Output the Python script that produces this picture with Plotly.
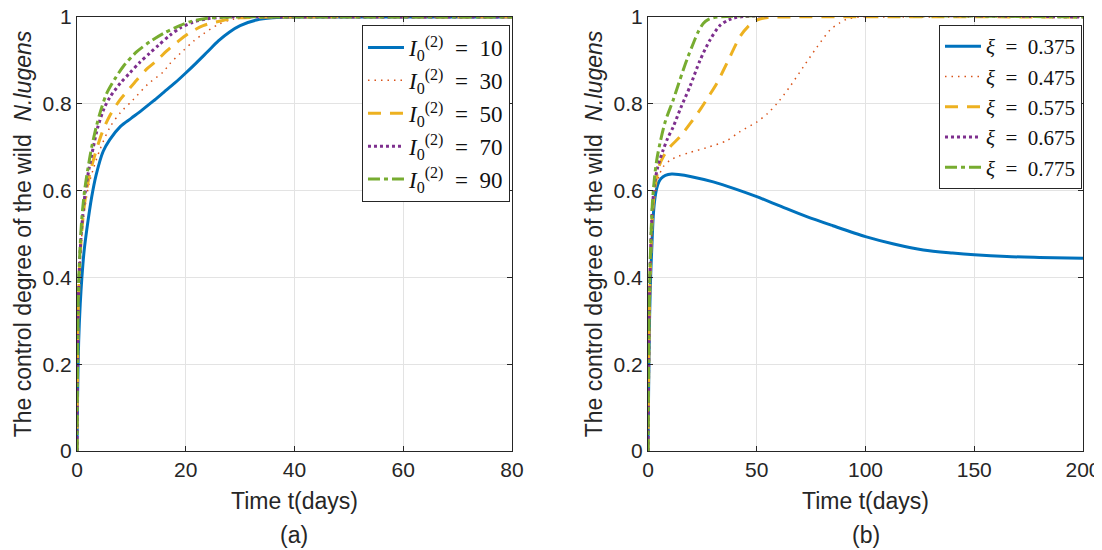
import plotly.graph_objects as go

# ---------------- data: panel (a) ----------------
t_a_10 = [0, 0.1, 0.3, 0.6, 0.9, 1.3, 1.8, 2.7, 3.5, 4.8, 6, 8, 10, 12, 14, 16, 18, 20, 22, 24, 26, 28, 30, 33, 36, 40, 50, 80]
y_a_10 = [0, 0.12, 0.25, 0.34, 0.40, 0.46, 0.51, 0.585, 0.635, 0.69, 0.717, 0.748, 0.767, 0.786, 0.806, 0.827, 0.848, 0.871, 0.895, 0.92, 0.945, 0.965, 0.98, 0.993, 0.998, 1.0, 1.0, 1.0]

t_a_30 = [0, 0.1, 0.25, 0.5, 0.9, 1.5, 2.2, 3, 4.2, 6.1, 8, 10.3, 13, 15.9, 17.1, 19.5, 21.5, 23.2, 26, 28.7, 32, 40, 80]
y_a_30 = [0, 0.17, 0.32, 0.42, 0.50, 0.565, 0.615, 0.65, 0.694, 0.747, 0.78, 0.809, 0.845, 0.874, 0.893, 0.922, 0.945, 0.961, 0.983, 0.995, 1.0, 1.0, 1.0]

t_a_50 = [0, 0.1, 0.25, 0.5, 0.9, 1.5, 2.2, 3, 4.6, 6, 7.9, 9.5, 11, 13, 14.7, 16.5, 18.4, 20.5, 23.2, 26.8, 30, 40, 80]
y_a_50 = [0, 0.18, 0.34, 0.43, 0.51, 0.58, 0.63, 0.67, 0.733, 0.772, 0.809, 0.833, 0.855, 0.882, 0.90, 0.922, 0.942, 0.962, 0.98, 0.992, 0.998, 1.0, 1.0]

t_a_70 = [0, 0.1, 0.25, 0.5, 0.9, 1.5, 2.2, 3, 3.8, 5, 6.1, 8, 9.7, 11.5, 13.4, 15, 17.1, 19, 21.3, 24, 28, 40, 80]
y_a_70 = [0, 0.19, 0.35, 0.44, 0.52, 0.595, 0.65, 0.70, 0.745, 0.79, 0.816, 0.848, 0.871, 0.895, 0.917, 0.935, 0.958, 0.975, 0.988, 0.996, 1.0, 1.0, 1.0]

t_a_90 = [0, 0.1, 0.25, 0.5, 0.86, 1.4, 2.0, 2.7, 3.6, 4.5, 5.5, 7, 8.5, 11, 13.4, 16, 18.9, 21, 24, 28, 40, 80]
y_a_90 = [0, 0.2, 0.36, 0.45, 0.532, 0.60, 0.65, 0.70, 0.75, 0.79, 0.825, 0.858, 0.886, 0.92, 0.943, 0.963, 0.98, 0.99, 0.997, 1.0, 1.0, 1.0]

# ---------------- data: panel (b) ----------------
t_b_375 = [0, 0.3, 0.7, 1.2, 1.7, 2.4, 3, 4, 5, 6, 8, 10.9, 14, 20, 30, 40, 50, 60, 73, 85, 100, 113, 126.6, 140, 150, 165, 180, 200]
y_b_375 = [0, 0.15, 0.30, 0.40, 0.463, 0.54, 0.575, 0.605, 0.62, 0.628, 0.635, 0.638, 0.637, 0.632, 0.620, 0.604, 0.586, 0.566, 0.54, 0.519, 0.494, 0.477, 0.463, 0.456, 0.452, 0.448, 0.446, 0.444]

t_b_475 = [0, 0.3, 0.7, 1.2, 2, 3, 4, 5.5, 7, 10.1, 14, 19.3, 27, 36.2, 42.3, 50, 55, 59.2, 65.3, 71.4, 77.6, 83.7, 88, 91.4, 97.5, 110, 200]
y_b_475 = [0, 0.17, 0.33, 0.43, 0.52, 0.58, 0.615, 0.64, 0.655, 0.67, 0.679, 0.688, 0.699, 0.715, 0.736, 0.758, 0.778, 0.80, 0.84, 0.885, 0.93, 0.97, 0.986, 0.995, 1.0, 1.0, 1.0]

t_b_575 = [0, 0.3, 0.7, 1.2, 2, 3, 5, 7, 10, 14.7, 19, 23.9, 28, 31.6, 36.9, 42.3, 46, 50, 55, 60, 200]
y_b_575 = [0, 0.18, 0.34, 0.44, 0.54, 0.60, 0.655, 0.678, 0.70, 0.724, 0.752, 0.786, 0.818, 0.847, 0.90, 0.955, 0.978, 0.993, 0.999, 1.0, 1.0]

t_b_675 = [0, 0.3, 0.7, 1.2, 2, 3, 4.5, 7, 9, 11.6, 15, 19.3, 23.9, 28.5, 33, 37, 42, 200]
y_b_675 = [0, 0.19, 0.36, 0.46, 0.56, 0.615, 0.655, 0.694, 0.72, 0.747, 0.79, 0.84, 0.90, 0.947, 0.98, 0.993, 1.0, 1.0]

t_b_775 = [0, 0.3, 0.7, 1.2, 2, 3, 4, 5.5, 8, 11.6, 14, 16.2, 18.5, 20.8, 23, 25.4, 28, 32, 200]
y_b_775 = [0, 0.20, 0.37, 0.47, 0.57, 0.63, 0.67, 0.709, 0.76, 0.809, 0.845, 0.878, 0.91, 0.939, 0.965, 0.985, 0.995, 1.0, 1.0]

labels_a = ["10", "30", "50", "70", "90"]
labels_b = ["0.375", "0.475", "0.575", "0.675", "0.775"]
x_ticks_a = [0, 20, 40, 60, 80]
x_ticks_b = [0, 50, 100, 150, 200]
y_ticks = [0, 0.2, 0.4, 0.6, 0.8, 1]
y_tick_text = ["0", "0.2", "0.4", "0.6", "0.8", "1"]

colors = ["#0072BD", "#D95319", "#EDB120", "#7E2F8E", "#77AC30"]
dashes = ["solid", "1.5px,5px", "13px,9px", "3px,3px", "12px,4px,4px,4px"]
widths = [3, 1.5, 3, 3, 3]

series_a = [(t_a_10, y_a_10), (t_a_30, y_a_30), (t_a_50, y_a_50), (t_a_70, y_a_70), (t_a_90, y_a_90)]
series_b = [(t_b_375, y_b_375), (t_b_475, y_b_475), (t_b_575, y_b_575), (t_b_675, y_b_675), (t_b_775, y_b_775)]

fig = go.Figure()

for i, (t, y) in enumerate(series_a):
    fig.add_trace(go.Scatter(
        x=t, y=y, mode="lines", xaxis="x", yaxis="y", legend="legend",
        name="<i>I</i><sub>0</sub><sup>(2)</sup>  =  " + labels_a[i],
        line=dict(color=colors[i], width=widths[i], dash=dashes[i], shape="spline", smoothing=0.8),
    ))

for i, (t, y) in enumerate(series_b):
    fig.add_trace(go.Scatter(
        x=t, y=y, mode="lines", xaxis="x2", yaxis="y2", legend="legend2",
        name="<i>ξ</i>&nbsp; = &nbsp;" + labels_b[i],
        line=dict(color=colors[i], width=widths[i], dash=dashes[i], shape="spline", smoothing=0.8),
    ))

axis_common = dict(
    showline=True, linecolor="#262626", linewidth=1, mirror="ticks",
    ticks="inside", ticklen=5, tickcolor="#262626",
    showgrid=True, gridcolor="#e3e3e3", gridwidth=1, zeroline=False,
    automargin=False, ticklabeloverflow="allow",
    tickfont=dict(family="Liberation Sans, Arial, sans-serif", size=21, color="#262626"),
)
title_font = dict(family="Liberation Sans, Arial, sans-serif", size=23, color="#262626")
ytitle = "The control degree of the wild  <i>N.lugens</i>"

# plot area in figure pixels: 69..1075 wide (1006), 9..443 tall (434)
dom_a = [0.0, 0.4324]
dom_b = [0.5676, 1.0]
legend_font = dict(family="Liberation Serif, DejaVu Serif, serif", size=23, color="#111111")
legend2_font = dict(family="Liberation Serif, DejaVu Serif, serif", size=21, color="#111111")

fig.update_layout(
    width=1100, height=542,
    margin=dict(l=69, r=25, t=9, b=99),
    paper_bgcolor="white", plot_bgcolor="white",
    xaxis=dict(domain=dom_a, range=[0, 80], tickvals=x_ticks_a, anchor="y",
               title=dict(text="Time t(days)", font=title_font, standoff=12), **axis_common),
    yaxis=dict(domain=[0, 1], range=[0, 1], tickvals=y_ticks, ticktext=y_tick_text, anchor="x",
               title=dict(text=ytitle, font=title_font, standoff=4), **axis_common),
    xaxis2=dict(domain=dom_b, range=[0, 200], tickvals=x_ticks_b, anchor="y2",
                title=dict(text="Time t(days)", font=title_font, standoff=12), **axis_common),
    yaxis2=dict(domain=[0, 1], range=[0, 1], tickvals=y_ticks, ticktext=y_tick_text, anchor="x2",
                title=dict(text=ytitle, font=title_font, standoff=4), **axis_common),
    legend=dict(x=0.4304, y=0.9816, xanchor="right", yanchor="top",
                bgcolor="white", bordercolor="#262626", borderwidth=1,
                font=legend_font, tracegroupgap=0, itemwidth=36),
    legend2=dict(x=0.999, y=0.9816, xanchor="right", yanchor="top",
                 bgcolor="white", bordercolor="#262626", borderwidth=1,
                 font=legend2_font, tracegroupgap=0, itemwidth=36),
    annotations=[
        dict(text="(a)", x=sum(dom_a) / 2, y=-0.1935, xref="paper", yref="paper",
             showarrow=False, font=title_font, xanchor="center", yanchor="middle"),
        dict(text="(b)", x=sum(dom_b) / 2, y=-0.1935, xref="paper", yref="paper",
             showarrow=False, font=title_font, xanchor="center", yanchor="middle"),
    ],
)

fig.write_html("out.html")
